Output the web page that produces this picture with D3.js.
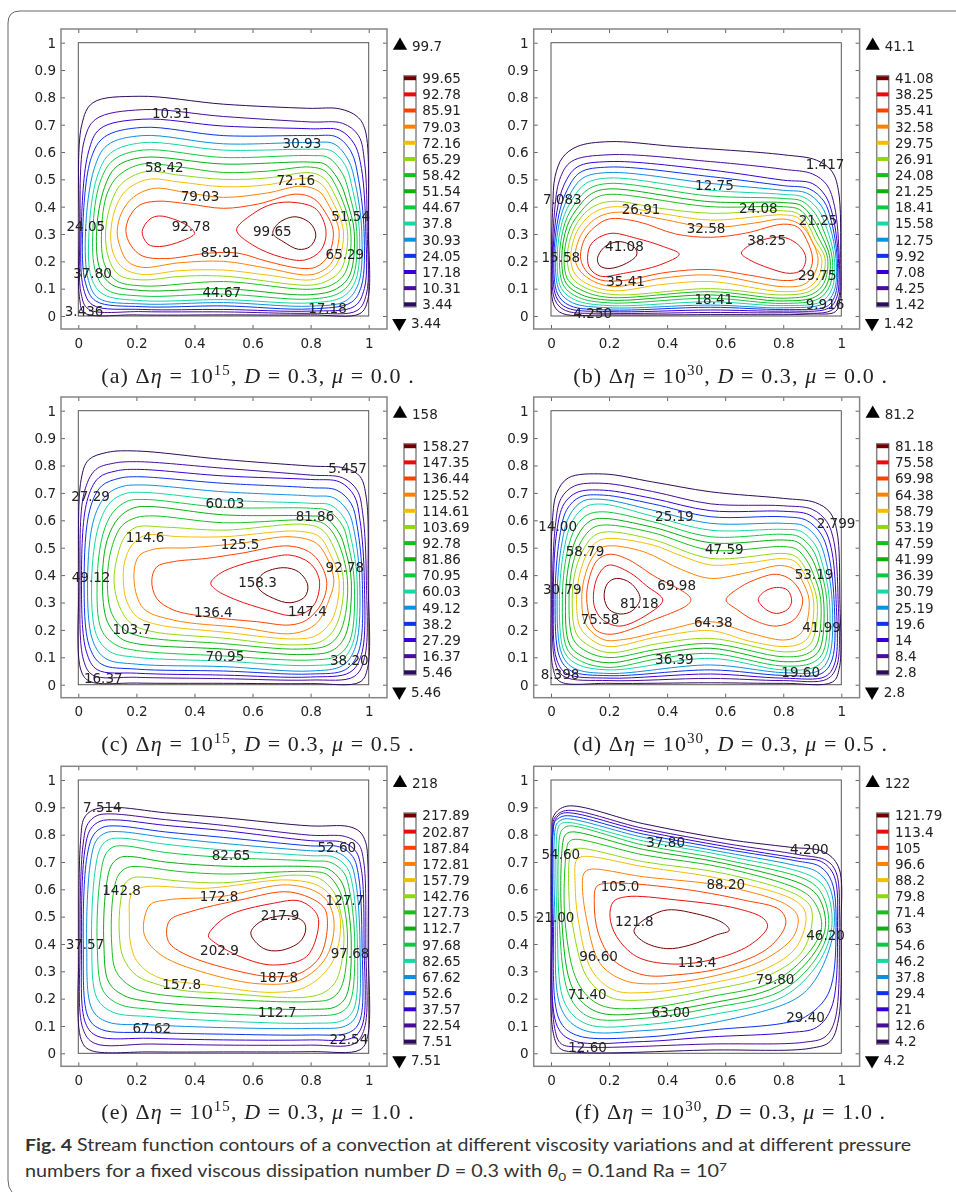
<!DOCTYPE html>
<meta charset="utf-8">
<style>
body { margin: 0; background: #fff; }
text { font-family: "DejaVu Sans", sans-serif; fill: #222; }
.contour { fill: none; stroke-width: 1; }
.tick line { stroke: #666; }
.tick text { font-size: 13.5px; fill: #222; }
.caption { font-family: "Liberation Serif", serif; font-size: 22px; letter-spacing: 1.1px; }
.figcap { font-family: "Lato", sans-serif; font-size: 17.5px; fill: #333; }
</style>
<svg width="956" height="1192"></svg>
<script src="https://d3js.org/d3.v7.min.js"></script>
<script>
// colour of each contour level, lowest to highest
const levelColors = ["#2e0a5c", "#4a0a9c", "#3600d6", "#0a30f0", "#0a90e0", "#12d8a0", "#10c840", "#08b010", "#18c018", "#90d810", "#f0c000", "#ff8000", "#ff4000", "#e81010", "#700000"];
const axisTicksX = [0, 0.2, 0.4, 0.6, 0.8, 1];
const axisTicksY = [0, 0.1, 0.2, 0.3, 0.4, 0.5, 0.6, 0.7, 0.8, 0.9, 1];

// contour levels of each panel, lowest first
const levelsA = ["3.44", "10.31", "17.18", "24.05", "30.93", "37.8", "44.67", "51.54", "58.42", "65.29", "72.16", "79.03", "85.91", "92.78", "99.65"];
const levelsB = ["1.42", "4.25", "7.08", "9.92", "12.75", "15.58", "18.41", "21.25", "24.08", "26.91", "29.75", "32.58", "35.41", "38.25", "41.08"];
const levelsC = ["5.46", "16.37", "27.29", "38.2", "49.12", "60.03", "70.95", "81.86", "92.78", "103.69", "114.61", "125.52", "136.44", "147.35", "158.27"];
const levelsD = ["2.8", "8.4", "14", "19.6", "25.19", "30.79", "36.39", "41.99", "47.59", "53.19", "58.79", "64.38", "69.98", "75.58", "81.18"];
const levelsE = ["7.51", "22.54", "37.57", "52.6", "67.62", "82.65", "97.68", "112.7", "127.73", "142.76", "157.79", "172.81", "187.84", "202.87", "217.89"];
const levelsF = ["4.2", "12.6", "21", "29.4", "37.8", "46.2", "54.6", "63", "71.4", "79.8", "88.2", "96.6", "105", "113.4", "121.79"];

// contours: level index, then x,y pairs in percent of the unit square
const contoursA = [
  [0, .3,31, 1.2,70, 5,78, 21,80.4, 50,77.5, 79,76, 90,75.8, 96,73, 98.8,68, 99.9,31, 99.7,6, 97,.9, 80,.4, 50,.4, 20,.4, 2,1.2, .5,6],
  [1, .6,31, 2,64, 6,72, 22,75.5, 50,73, 80,71, 91,70.5, 96.5,66, 98.6,56, 99.5,31, 99.2,8, 96,2, 80,1, 50,1.5, 22,1.6, 3.5,2.5, 1,8],
  [2, 1,31, 3.5,60, 7.5,68.5, 22,72, 50,69.5, 80,68.5, 90,68, 95,63, 97.5,54, 99,31, 98.5,10, 95,3.5, 80,1.8, 50,2.4, 22,2.4, 5,4, 1.8,10],
  [3, 1.5,31, 4.5,58, 9,65.5, 22,69, 50,66, 80,66, 89,65.5, 94,60, 96.5,50, 98.4,31, 97.5,11, 94,5, 80,2.6, 50,3.7, 22,3.4, 6,5.5, 2.5,12],
  [4, 2.5,31, 5.5,54, 10,62.5, 22,66, 50,63, 80,63.5, 88,63, 93,57, 95.5,48, 97.6,31, 96.5,12, 92,5.5, 80,3.6, 50,4.9, 22,4.4, 7,6.5, 3.5,13],
  [5, 3.7,31, 6.5,51, 11,59.5, 22,63.4, 50,60.7, 80,61, 87,60.5, 92,55, 94.5,46, 96.8,31, 95.5,13, 91,7, 80,4.8, 50,6, 22,5.6, 8.5,8, 4.5,14],
  [6, 5,31, 7.5,49, 12,57, 22,60.7, 50,58, 80,58.7, 86,58, 91,52, 93.5,44, 95.9,31, 94.5,14, 90,8.5, 80,6.2, 50,8, 22,7.3, 10,9.5, 6,16],
  [7, 6.3,31, 9,47, 13,54.5, 22,58, 50,55.6, 80,56.3, 85,55.5, 90,49, 92.5,42, 95,31, 93.5,15, 89,10, 80,7.8, 50,10, 22,9.3, 11.5,11.5, 7.5,17],
  [8, 8,31, 10,45, 14,51.5, 22,55.6, 35,54.5, 50,52.5, 65,53, 80,54.5, 85,53, 89,47, 93.8,31, 92,16, 87.5,11.5, 80,9.8, 50,12.6, 22,11, 13,13, 9,19],
  [9, 9.4,31, 11.5,42, 15,48.5, 23,52.8, 35,51.5, 50,50, 65,50.5, 80,52.4, 84.5,50.5, 88,45, 92.7,31, 90.5,17, 86,13, 80,11.3, 50,14.6, 35,14.5, 22,13.2, 14,15, 10.5,21],
  [10, 11.2,31, 13,40, 16.5,46, 24,50, 35,49, 50,47.3, 65,48, 79,50.4, 84,48, 87,43, 91.3,31, 89,19, 85,15, 80,13.2, 65,15, 50,16.8, 35,16.6, 22,15.2, 15.5,17.5, 12,23],
  [11, 13.4,31, 15,38, 19,43.5, 26,46.7, 38,45, 50,43.4, 65,45, 77,47.5, 83,45.5, 86,41, 89.8,31, 87.5,20, 84,16.5, 79,15, 65,17.5, 50,20, 35,19.5, 22,17.8, 17,20, 14.5,25],
  [12, 16.4,31, 17.5,36, 21,40.5, 27,42, 38,41, 50,39.4, 62,41, 75,44.6, 81,43, 85,38, 87.8,31, 86,22, 82,18, 77,17.4, 65,20, 55,23, 45,23, 30,21, 22,22, 18,26],
  [13, 22,30.9, 24.7,35.5, 28,36.6, 34,35, 38.5,32.4, 40,30.2, 36,27.6, 28,25.4, 24,26.3],
  [13, 54.5,31.5, 60,37.3, 67,41, 75,41.5, 82,39, 85.3,31, 83.5,24, 78,20.5, 70,21.5, 60,26],
  [14, 67,30.2, 69,34, 74.6,36.3, 79.8,34, 81.8,29.6, 79.8,25.4, 75.8,24.4, 70.6,27.2]
];
const contoursB = [
  [0, .2,21, .6,40, 1.4,51, 4,58, 9,62, 20,63.8, 43,62, 80,59, 91.5,57, 96.7,53, 99,46, 99.8,21, 99.5,6, 98,1.6, 89,.7, 55,.5, 20,.4, 4,.9, 1,4],
  [1, .5,21, 1.2,38, 3,50, 7,56.5, 20,59, 55,56.5, 80,53.7, 90,52, 95,48, 97.7,40, 99.3,21, 99,6, 96.5,2, 80,1.2, 55,1.3, 20,1, 5,2, 1.3,6],
  [2, .7,21, 2,38, 4.5,48, 9,54.5, 20,56.5, 55,53.4, 80,49.7, 90,48.5, 94.5,44, 97,37, 99,21, 98.5,7, 95.5,2.8, 80,1.8, 55,2.2, 20,1.6, 5.5,3, 1.8,7],
  [3, 1,21, 2.7,37, 5.5,46, 10,52.5, 20,54.5, 55,51, 80,47.7, 89,46.5, 94,42, 96.5,35, 98.6,21, 98,8, 95,3.5, 80,2.4, 55,3.2, 20,2.2, 6.5,3.8, 2.3,8],
  [4, 1.5,21, 3.3,36, 6.5,44.5, 11,50.5, 20,52.5, 55,48.5, 80,46, 88,45, 93,40.5, 96,33, 98.2,21, 97.5,9, 94,4.5, 80,3, 55,4, 20,3, 7.5,4.8, 3,9],
  [5, 2.1,21, 4,35, 7.5,43, 12,48.5, 20,50.5, 55,46, 80,44.5, 87,43.5, 92,39, 95,32, 97.6,21, 96.8,10, 93,5.2, 80,3.8, 55,5.2, 20,3.8, 8.5,5.8, 3.6,10],
  [6, 2.9,21, 4.8,34, 8.5,41.5, 13,46.5, 20,48.5, 55,43.9, 80,43, 86.5,42, 91,37.5, 94,31, 96.9,21, 96,11, 92,6.2, 80,4.6, 55,6.5, 20,4.8, 9.5,6.8, 4.4,11],
  [7, 3.7,21, 5.6,33, 9.5,40, 14,44.8, 20,46.5, 55,41.8, 80,41.5, 86,40.5, 90,36, 93,30, 96.1,21, 95,11.5, 91,7, 80,5.5, 55,7.7, 20,5.8, 10.5,7.8, 5.2,12],
  [8, 4.5,21, 6.5,32, 10.5,38.5, 15,43, 20,44.5, 55,40, 80,40, 85.5,39, 89,35, 92,29, 95.3,21, 94,12, 90,8, 80,6.5, 55,8.9, 20,6.8, 11.5,9, 6,13],
  [9, 5.6,21, 7.5,31, 11.5,37.5, 16,40.8, 22,42, 37,39.5, 55,37.6, 80,38.5, 85,37.5, 88.5,33.5, 91,28, 94.4,21, 93,13, 89,9, 80,7.7, 55,10, 22,7.8, 12.5,10, 7.2,14],
  [10, 6.8,21, 8.5,30, 12.5,36, 17,39, 23,40, 38,37.5, 55,35.1, 80,37, 85,36, 88,32, 90,27, 93.2,21, 92,14, 88,10, 80,8.9, 55,12.6, 38,11.5, 22,9.2, 14,11, 8.5,15],
  [11, 8.3,21, 10,29, 14,34.5, 18,37, 24,38, 38,35.5, 55,32.4, 70,34, 80,35.5, 85,34, 88,31, 92,21, 90.5,15, 87,11.5, 80,10.7, 55,15, 38,13.8, 22,10.8, 15,12.5, 10,16.5],
  [12, 10.2,21, 11.5,28, 15,32.5, 20,35.5, 30,34.5, 43,30, 55,28.8, 67,30.3, 80,33.6, 85,32.5, 88,28, 90.1,21, 89,16.5, 85,13.5, 80,13, 68,15, 55,17, 40,16, 25,13, 17,13.2, 12.5,16],
  [13, 12.6,21.5, 14,26.6, 20.3,30.2, 29.5,28.4, 38.7,25.4, 44.2,22.6, 37.5,18.7, 25,15.6, 17,14.6, 13.4,17.4],
  [13, 65.6,23, 69.7,26.6, 80,28.8, 85.8,25.4, 87.8,21.1, 86.3,16.8, 82.3,15.6, 75.4,17.4, 68.5,20.5],
  [14, 16,21, 18.6,25.4, 23.8,27.2, 29,24.8, 29.5,22.3, 26,19.3, 20.3,17.4, 16.9,18.3]
];
const contoursC = [
  [0, .2,38, 1,75, 3.5,82, 10,84.8, 20,85.3, 50,82.2, 80,79.8, 92,79, 97,76, 99.2,68, 99.8,38, 99.6,6, 97,1, 80,.4, 50,.5, 20,.6, 4,1.2, 1,5],
  [1, .6,38, 2,70, 6,78.5, 12,80.8, 20,81.4, 50,79, 80,76.5, 91,75.5, 96,71, 98,62, 99.2,38, 98.6,10, 95,3, 80,1.7, 50,2.2, 20,2.7, 5,3.5, 1.8,9],
  [2, 1.1,38, 3,67, 7,75.5, 13,78, 20,78.6, 50,76.2, 80,74.9, 90,74, 95,69, 97,60, 98.5,38, 97.5,11, 93.5,4.5, 80,2.8, 50,3.5, 20,4.2, 6.5,5.5, 2.8,12],
  [3, 2,38, 4,64, 8,72.5, 14,75.3, 20,75.9, 50,73.5, 80,71.9, 89,71, 94,66, 96,58, 97.8,38, 96.5,12, 92,5.5, 80,3.9, 50,5, 20,5.7, 8,7.5, 3.8,14],
  [4, 3.2,38, 5.5,61, 10,69.5, 15,72.3, 22,72.9, 50,70.4, 80,68.9, 88,68.2, 93,63, 95,56, 96.9,38, 95.5,14, 91,7, 80,5, 50,6.6, 20,7.5, 9.5,9.5, 5,16],
  [5, 4.6,38, 7,58, 11,66.5, 16,69.7, 22,70.2, 50,67.4, 80,66.2, 87,65.5, 92,60, 94,53, 96,38, 94.5,15, 90,8.5, 80,7, 50,8.6, 20,10, 11,12, 6.3,18],
  [6, 6.5,38, 8.5,55, 12,63, 17,67, 23,67.6, 50,64.7, 80,64.4, 86,63.5, 91,58, 93,51, 95,38, 93.5,16, 89,10.5, 80,9, 50,10.5, 20,12.5, 13,14.5, 8,20],
  [7, 8.3,38, 10,53, 14,61, 19,64.5, 25,65, 50,62, 80,61.6, 85,61, 90,55, 92,49, 94,38, 92,18, 87.5,12.5, 78,11, 50,13, 20,15, 14.5,17, 10,23],
  [8, 10,38, 11.5,50, 15,58, 20,61, 26,61.6, 50,59.1, 80,60, 85,58.5, 89,53, 92.7,38, 90.5,20, 86,14.5, 76,13, 50,15, 22,17.5, 16,20, 11.5,26],
  [9, 12.3,38, 13.5,47, 16,54, 20,57.5, 30,57.5, 50,56.4, 78,58.5, 84,56.5, 88,50, 91.3,38, 89,22, 84,16, 75,14.5, 50,17, 25,19.5, 18,22.5, 14,29],
  [10, 15.5,38, 16,45, 18.5,51, 23,54.5, 35,54, 50,54, 76,56, 83,54, 87,47, 89.8,38, 87.5,24, 82,18, 75,16.7, 50,19.2, 27,22, 20,25, 16.5,31],
  [11, 19.2,38, 20.7,46.7, 25.8,49.4, 38.5,50, 55.7,51.6, 72.9,54, 82,51.6, 86,45.5, 88,38, 86.7,32, 82,22.4, 74,18.7, 55.7,20.9, 32.7,23.6, 22.4,27.9],
  [12, 25.3,38, 27,43, 32.7,44.9, 44.2,46.1, 55.7,47.9, 72.9,50.6, 81,47.3, 85.5,38, 83.8,29.7, 78.6,23.6, 72.9,21.8, 61.4,23, 44.2,24.8, 32.7,27.3, 27,31.5],
  [13, 45.6,37, 48.8,40.6, 55.7,43.7, 64.9,46.1, 72.9,47.3, 79.8,44.3, 83,38.2, 81.5,29.7, 77.5,26, 72.9,25.2, 64.9,27.3, 54.5,30.9, 47.6,34.5],
  [14, 61.4,37, 63.7,40.6, 70.6,42.7, 75.8,41.2, 79,36.4, 78,32.1, 72.9,29.9, 67.2,31.5, 62.6,34.5]
];
const contoursD = [
  [0, .1,31, .5,60, 2,70, 6,75.5, 18,76.9, 35,74, 55,70.4, 80,68, 91,66.5, 96,63, 98.5,56, 99.5,31, 99.3,6, 97,1, 80,.5, 55,.7, 20,.5, 3,1.2, .7,6],
  [1, .5,31, 1.5,58, 3.5,68, 8,72.5, 18,73.5, 35,70.5, 55,66, 80,65.3, 90,64, 95,59.5, 97.5,52, 98.9,31, 98.5,7, 95,2, 80,1.5, 55,2.3, 20,1.5, 4.5,3, 1.5,8],
  [2, .8,31, 2,56, 4.5,66, 9,70.2, 18,71, 35,68, 55,63.5, 80,63.3, 89,62, 94,57, 96.5,50, 98.2,31, 97.8,8, 94.5,3, 80,2.4, 55,3.9, 20,2.4, 5.5,4, 2,9],
  [3, 1.4,31, 3,54, 5.5,64, 10,68.5, 18,69.2, 35,66, 55,61.3, 80,61.3, 88,60, 93,55, 95.5,48, 97.5,31, 96.8,9, 93,4, 80,3.4, 55,5.4, 20,3.3, 7,5, 3,10],
  [4, 2.1,31, 3.8,52, 6.5,62, 11,67, 18,67.6, 35,63.7, 55,58.9, 80,58.9, 87,58, 92,53, 94.5,46, 96.8,31, 95.8,10, 92,5, 80,4.4, 55,7.2, 20,4.1, 8,6, 3.8,11],
  [5, 2.9,31, 4.6,50, 7.5,60, 12,65, 18,65.9, 35,61.5, 55,56.4, 80,56.7, 86,56, 91,51, 93.5,44, 95.9,31, 94.8,11, 91,6.5, 80,5.4, 55,9.6, 20,5.4, 9,7.5, 4.6,12],
  [6, 3.9,31, 5.5,48, 8.5,57.5, 12.5,62, 18,63.1, 35,59.5, 55,54, 80,54.9, 85.5,54, 90,49.5, 92.5,43, 95,31, 93.8,12, 90,8, 80,6.8, 55,11.4, 37,9.5, 20,6.3, 10.5,8.5, 5.6,13],
  [7, 5,31, 6.5,46, 9.5,55, 13.5,59.8, 18,60.7, 35,57.5, 55,51.8, 80,52.8, 85,52, 89,47.5, 91.5,42, 93.9,31, 92.6,13, 89,9.5, 80,8.4, 55,13.3, 37,11.3, 20,8, 11.5,10, 6.5,14.5],
  [8, 6.2,31, 7.5,44, 10.5,52.5, 14.5,57.3, 19,58.3, 35,55.5, 55,49.1, 80,50.4, 84.5,49.5, 88,45.5, 90.5,40, 92.9,31, 91.5,14.5, 88,11.2, 80,10.2, 55,15, 37,13, 20,9.9, 12.5,12, 7.7,16.5],
  [9, 7.3,31, 8.5,42, 11.5,50, 15,54.5, 19.5,55.8, 35,53, 55,46.1, 80,47.9, 84,47, 87,43.5, 91.6,31, 90,16, 87,13, 80,12, 55,16.9, 37,15, 20,11.7, 13.5,14, 8.8,18.5],
  [10, 8.8,31, 9.8,40, 12.5,48, 16,52.3, 20,53.4, 35,51, 45,47, 55,43.7, 68,44.5, 80,46, 84,45, 87,41, 90.4,31, 89,18, 86,15, 80,13.9, 68,16, 55,19.7, 37,17.5, 20,13.9, 14.5,16, 10,21],
  [11, 10.6,31, 11.5,39, 14,46, 17,49.8, 20.5,50.7, 32,48.5, 45,42, 55,38.8, 68,41, 79,43.5, 84,42, 86.5,38, 88.9,31, 87.5,21, 84.5,17.5, 80,16.3, 68,19, 55,23, 40,20, 25,16.5, 18,16.5, 12,22],
  [12, 12.3,31, 13.5,40, 16,45.5, 20,47.6, 26,46, 35,40, 48.2,30.9, 35,23.5, 20.3,18.4, 15,20.5],
  [12, 60.3,30.9, 65,35.5, 72,39, 77.7,40.3, 83,38, 86.7,31, 84,24, 77.7,21.4, 70,23.5, 64,27.5],
  [13, 14.6,31, 15.5,38, 18,42.5, 20.3,43.7, 27,41, 33,36, 38.5,30.9, 33,25.5, 23.8,21.4, 18,23.5, 15.5,27],
  [13, 71.4,31, 73.5,34, 77.7,35.5, 81.5,34.5, 82.9,30.5, 81.5,27.5, 77.7,26, 74,27.5],
  [14, 18.3,32, 19.5,37, 22.6,38.8, 27.5,37, 30.7,31.5, 28,27, 23.8,25.8, 20,27.5]
];
const contoursE = [
  [0, .2,40, .8,78, 2,86, 5,89, 12,90, 30,88, 50,86.2, 80,83.2, 93,83, 97,81, 99,77, 99.7,70, 99.8,40, 99.6,6, 97,1.3, 80,.6, 50,.5, 25,.5, 4,1.2, 1,5],
  [1, .6,40, 1.6,76, 3.3,84, 6.5,87, 11,87.6, 30,85.5, 50,83.4, 80,79.8, 92,79.3, 96.5,76.5, 98.3,70, 99,40, 98.5,9, 95,3.5, 80,3, 50,3, 25,3.4, 5.5,3.7, 1.6,9],
  [2, 1.1,40, 2.2,74, 4.2,82, 7.5,84.9, 13,85.4, 30,83.4, 50,81.5, 80,77.8, 91,77.2, 95.5,74, 97.5,67, 98.4,40, 97.7,10, 94,5.5, 80,4.9, 50,4.9, 25,5.5, 6.5,6.3, 2.5,11],
  [3, 1.7,40, 3,72, 5.3,80, 8.5,82.7, 13,83.2, 30,81, 50,79, 80,75.9, 90,75.5, 94.5,72, 96.5,65, 97.7,40, 96.8,11.5, 93,7.5, 80,6.7, 50,7, 25,7.6, 8,8.7, 3.5,13],
  [4, 2.9,40, 4.2,70, 6.3,78, 9.5,80.7, 14,81.1, 30,79, 50,76.8, 80,74.1, 89,73.6, 93.5,70, 95.5,63, 97,40, 95.8,14, 92,10, 80,9.1, 50,9.4, 25,10.4, 10,11.5, 4.8,16],
  [5, 4.6,40, 5.8,67, 7.8,75.5, 10.5,78.2, 15,78.7, 30,76.5, 50,74.4, 80,72.3, 88,71.8, 92.5,68, 94.5,61, 96.1,40, 94.8,16, 91,12, 80,11, 50,11.8, 25,13.4, 12,15, 6.5,20],
  [6, 6.5,40, 7.5,64, 9.5,73, 12,75.5, 16,75.9, 30,73.5, 50,71.7, 80,70.4, 87,69.8, 91.5,66, 93.5,59, 95.2,40, 93.5,18.5, 90,14.8, 80,13.7, 50,14.4, 25,16.1, 14,18, 8.5,23],
  [7, 8.8,40, 9.5,60, 11.5,69, 14.5,71.7, 18,72, 30,70, 50,68.5, 80,68.3, 86,67.5, 90.5,63, 92.5,56, 94,40, 92.3,21, 88.5,17, 80,16.1, 50,17, 25,18.9, 16,21, 10.5,26],
  [8, 11.5,40, 12,58, 14,65.5, 17,68, 21,68.3, 35,66.5, 50,65.6, 80,66.5, 85.5,65.5, 89.5,60.5, 91.5,54, 92.7,40, 90.5,24, 87,20, 80,18.9, 50,19.8, 25,22, 18,24.5, 13,30],
  [9, 14.1,44, 14.6,56, 16,62, 19,64.3, 23,64.4, 35,63, 50,62.4, 75,65.2, 83,64, 88,59, 90,53, 91.5,42, 89,27, 85,22.5, 78,20.5, 50,22, 36,23, 28,25, 20,28.5, 15.5,35],
  [10, 17.6,47, 18.4,58.5, 22.4,60.8, 44.2,60.4, 72.9,63.4, 84,60.5, 89.9,51.2, 87.8,34, 78.6,24.4, 67.2,22.3, 44.2,25, 27,28, 20,34, 17.8,41.5],
  [11, 22.4,46.3, 24.7,54.3, 30.4,56.1, 48.8,57.3, 72.9,61.6, 84.4,57.3, 88,48.8, 85.5,35.4, 76.3,26.8, 62.6,25.4, 44.2,29.3, 29.3,35.4, 23.5,41.5],
  [12, 30.4,43.9, 31.6,48.8, 38.5,51.8, 55.7,56.1, 73,59, 84.3,53.7, 85.8,47.6, 83.2,35.4, 76.3,29.3, 67.2,28, 55.7,29.9, 38.5,35.4, 31.6,40],
  [13, 44.8,43, 51,50, 67.2,54.9, 76.3,55.7, 82,51.2, 82.7,46.3, 78.6,35.4, 67.2,32.3, 55.7,35.4, 46.5,40.9],
  [14, 59.4,43.9, 62.5,48, 71.8,50.4, 77.5,48.2, 78.3,45.1, 76.3,40.8, 69.5,37.6, 63.7,38.4]
];
const contoursF = [
  [0, .1,48.8, .3,80, 1,87, 5.4,90.4, 31.8,84, 60.5,78.3, 82.3,75.4, 93.8,73.8, 99,68.3, 99.9,46, 99,12.2, 96.1,4.3, 89.2,1.8, 54.8,1.2, 8.8,.4, 3.1,1.8, .8,7.3],
  [1, .2,48.8, .5,80, 1.2,86, 5,88.8, 31.8,82.3, 60.5,76.7, 85.8,72.6, 95,70.5, 98.3,66, 99.3,46, 97.8,12.2, 94.4,6, 86.9,4, 54.8,3.4, 10,2.3, 3.5,3.5, 1.3,9],
  [2, .5,48.8, .8,82, 1.5,85.5, 4.2,87.9, 31.8,81.3, 60.5,75.6, 85,71.4, 93.2,70.1, 97.5,65, 98.7,46, 96.7,17, 91.5,9.5, 81.2,7.5, 54.8,6, 31.8,4.3, 7.7,4.6, 2.2,9.8],
  [3, .8,48.8, 1,84, 1.8,85.3, 4.8,86.9, 31.8,80.2, 60.5,74.6, 84,70.5, 92.7,68.3, 96.7,62.8, 98.2,46, 95.6,22, 87.7,13.4, 80,11, 54.8,8.5, 31.8,5.9, 8.8,6.6, 2.9,12.2],
  [4, 1.4,48.8, 1.6,83, 2.5,84.6, 4.8,85.8, 31.8,79, 60.5,73.4, 83,69, 91.5,66.5, 95.9,61, 97.5,46, 93.2,31, 88,23, 81.2,18.3, 54.8,11, 31.8,8.3, 11.1,8.5, 3.7,15.9],
  [5, 2.1,48.8, 2.3,82, 3.2,83.8, 5.4,84.5, 31.8,77.7, 60.5,72.2, 90.4,64.4, 95,59.1, 96.7,46, 92,32.9, 80,20.7, 54.8,14, 31.8,10.4, 12.3,10.7, 4.8,18.3],
  [6, 2.8,48.8, 3.1,80, 4,82, 6,83.2, 31.8,76.2, 60.5,70.7, 89.2,62.8, 93.8,57.3, 95.6,46, 90.9,34.1, 78.9,22.6, 54.8,16.5, 31.8,12.8, 13.4,13.2, 6.5,20.7],
  [7, 3.7,48.8, 4.2,78, 5,80, 7.1,81, 31.8,74.6, 60.5,69.3, 88.1,61, 92.7,56.1, 94.5,46, 89.8,35.4, 77.7,24.4, 54.8,18.3, 31.8,14.6, 15.7,15.2, 7.7,23.2],
  [8, 4.8,48.8, 5.6,76, 6.3,77.5, 8.3,78.3, 31.8,72.6, 60.5,67.7, 86.9,59.1, 91.3,54.3, 93.2,46, 88.6,36.6, 76.6,26.2, 54.8,20.7, 31.8,16.5, 16.9,17.7, 9.4,25.6],
  [9, 6.3,55, 7.1,74.1, 9.4,75, 31.8,70.1, 60.5,65.6, 85.8,57.3, 89.8,52.4, 86.9,37.8, 75.4,28.7, 54.8,23.2, 31.8,19.5, 20.3,20.5, 12.3,28, 7.1,48.8],
  [10, 8.3,62, 8.8,70.7, 11.1,72, 31.8,68.3, 60.5,63.4, 84.6,55.5, 87.8,50.6, 84.6,39, 74.3,31.1, 54.8,25.6, 31.8,22.2, 21.5,23.2, 14,30.5, 9.4,48.8],
  [11, 10.8,62, 11.4,65.9, 13.4,67.3, 31.8,64.6, 60.5,61, 81.2,54.3, 85,50, 83.5,42.7, 73.1,34.1, 54.8,28, 35.2,25.4, 24.9,26.8, 16.9,32.9, 12.3,48.8],
  [12, 14.9,55, 15.7,61, 19.2,62.2, 43.3,60.4, 66.2,56.1, 78.9,52.4, 80.9,47.6, 75.4,39, 60.5,31.7, 43.3,28.7, 31.8,28.7, 21.5,34.1, 16.3,43.9],
  [13, 20.3,50, 21.5,55.5, 26,57.3, 43.3,56.1, 64,53, 73.1,49.4, 74.6,46.3, 68.5,39.6, 54.8,34.1, 41,32.7, 29.5,35.4, 22.6,42.7],
  [14, 28.6,45, 38.7,52.2, 50.2,51, 59.4,47.6, 61.4,45, 57,43.3, 47.9,39.6, 39.8,38.3, 31.8,40.9]
];

// inline contour labels: text, x, y in percent
const labelsA = [["10.31",32,74.4],["30.93",77,63.4],["58.42",29.6,54.6],["72.16",74.9,49.8],["79.03",41.9,43.9],["51.54",93.8,36.7],["24.05",2.6,33],["92.78",38.8,32.7],["99.65",66.8,30.9],["65.29",91.8,22.6],["85.91",48.8,23.2],["37.80",4.9,15.6],["44.67",49.4,8.7],["17.18",85.8,2.7],["3.436",2,1.6]];
const labelsB = [["1.417",94.4,55.6],["12.75",56.3,47.7],["7.083",3.9,42.8],["26.91",31,39],["24.08",71.4,39.4],["21.25",92,35.1],["32.58",53.4,32.3],["38.25",74.3,27.8],["41.08",25.3,25.7],["15.58",3.4,21.5],["29.75",91.7,15],["35.41",25.7,12.8],["18.41",56.1,6.1],["9.916",94.4,4.3],["4.250",14.4,1]];
const labelsC = [["5.457",92.7,79],["27.29",4.2,68.9],["60.03",50.5,66.4],["81.86",81.5,61.7],["114.6",23,53.8],["125.5",55.7,51.2],["92.78",91.8,42.9],["49.12",4.4,39.2],["158.3",61.7,37.3],["136.4",46.5,26.6],["147.4",78.9,27],["103.7",18.4,20.2],["70.95",50.5,10.6],["38.20",93.3,9],["16.37",8.6,2.3]];
const labelsD = [["25.19",42.5,61.6],["2.799",98.2,59.1],["14.00",2.3,58],["58.79",11.7,48.9],["47.59",59.7,49.4],["53.19",90.6,40.5],["30.79",3.9,34.9],["69.98",43.3,36.3],["81.18",30.4,29.9],["75.58",16.9,23.8],["64.38",55.9,22.9],["41.99",93.2,20.9],["36.39",42.5,9.4],["19.60",86,4.5],["8.398",3.1,4]];
const labelsE = [["7.514",8.3,90.2],["52.60",89,75.4],["82.65",52.6,72.6],["142.8",14.9,59.8],["172.8",48.5,57.6],["127.7",91.8,55.9],["217.9",69.5,50.6],["37.57",2.3,40.1],["202.9",48.6,37.6],["97.68",93.6,36.8],["187.8",69,28],["157.8",35.6,25.2],["112.7",68.5,14.9],["67.62",25.3,9.1],["22.54",93.2,5.2]];
const labelsF = [["37.80",39.5,77.1],["4.200",89,74.6],["54.60",3.4,73],["105.0",23.8,61.3],["88.20",60.2,62],["121.8",28.7,48.3],["21.00",1.4,49.9],["46.20",94.6,43.4],["96.60",16.4,35.7],["113.4",50.3,33.4],["79.80",77.2,27],["71.40",12.5,21.5],["63.00",41.3,15.1],["29.40",87.7,13.4],["12.60",12.6,2.1]];

const maxLabels = ["99.7", "41.1", "158", "81.2", "218", "122"];
const minLabels = ["3.44", "1.42", "5.46", "2.8", "7.51", "4.2"];
const exponents = ["15", "30", "15", "30", "15", "30"];
const mus = ["0.0", "0.0", "0.5", "0.5", "1.0", "1.0"];
const letters = ["a", "b", "c", "d", "e", "f"];

const allLevels = [levelsA, levelsB, levelsC, levelsD, levelsE, levelsF];
const allContours = [contoursA, contoursB, contoursC, contoursD, contoursE, contoursF];
const allLabels = [labelsA, labelsB, labelsC, labelsD, labelsE, labelsF];

// where the unit square of each panel sits on the page
const colX = [[78.3, 368.7], [551, 841.3]];
const rowY = [[316, 42.7], [684.7, 410.7], [1053.3, 780]];
const captionY = [382.7, 750.7, 1119];

const svg = d3.select("svg");

// the scan is a little soft
svg.append("defs").append("filter").attr("id", "soft")
    .attr("x", "-2%").attr("y", "-2%").attr("width", "104%").attr("height", "104%")
    .append("feGaussianBlur").attr("stdDeviation", 0.35);

// frame of the figure box, open at the bottom
svg.append("path")
    .attr("d", "M956,11 L20,11 Q8,11 8,23 L8,1180 Q8,1188 12,1192")
    .attr("fill", "none")
    .attr("stroke", "#666");

letters.forEach(function(letter, i) {
    const col = i % 2, row = Math.floor(i / 2);
    const x = d3.scaleLinear([0, 1], colX[col]);
    const y = d3.scaleLinear([0, 1], rowY[row]);
    const px = d => x(d / 100), py = d => y(d / 100);
    const g = svg.append("g").attr("filter", "url(#soft)");

    const left = x(0) - 17.3, right = x(1) + 18.3;
    const top = y(1) - 13.7, bottom = y(0) + 13;

    // outer axes box with inward ticks
    g.append("g").attr("transform", `translate(0,${bottom})`)
        .call(d3.axisBottom(x).tickValues(axisTicksX).tickFormat(d3.format("~g")).tickSizeInner(-4).tickSizeOuter(0).tickPadding(9))
        .call(a => a.select(".domain").remove());
    g.append("g").attr("transform", `translate(0,${top})`)
        .call(d3.axisTop(x).tickValues(axisTicksX).tickFormat("").tickSizeInner(-4).tickSizeOuter(0))
        .call(a => a.select(".domain").remove());
    g.append("g").attr("transform", `translate(${left},0)`)
        .call(d3.axisLeft(y).tickValues(axisTicksY).tickFormat(d3.format("~g")).tickSizeInner(-4).tickSizeOuter(0).tickPadding(5))
        .call(a => a.select(".domain").remove());
    g.append("g").attr("transform", `translate(${right},0)`)
        .call(d3.axisRight(y).tickValues(axisTicksY).tickFormat("").tickSizeInner(-4).tickSizeOuter(0))
        .call(a => a.select(".domain").remove());
    g.append("rect")
        .attr("x", left).attr("y", top)
        .attr("width", right - left).attr("height", bottom - top)
        .attr("fill", "none").attr("stroke", "#858585").attr("stroke-width", 1.5);

    // the unit square
    g.append("rect")
        .attr("x", x(0)).attr("y", y(1))
        .attr("width", x(1) - x(0)).attr("height", y(0) - y(1))
        .attr("fill", "none").attr("stroke", "#555").attr("stroke-width", 1);

    const line = d3.line()
        .x(d => px(d[0]))
        .y(d => py(d[1]))
        .curve(d3.curveCatmullRomClosed.alpha(0.5));

    g.selectAll("path.contour")
        .data(allContours[i])
        .enter()
        .append("path")
        .attr("class", "contour")
        .attr("stroke", d => levelColors[d[0]])
        .attr("d", d => line(d3.pairs(d.slice(1)).filter((p, k) => k % 2 == 0)));

    g.selectAll("text.clabel")
        .data(allLabels[i])
        .enter()
        .append("text")
        .attr("class", "clabel")
        .attr("x", d => px(d[1]))
        .attr("y", d => py(d[2]))
        .attr("dy", "0.36em")
        .attr("text-anchor", "middle")
        .attr("font-size", 13.5)
        .text(d => d[0]);

    // colour bar, levels run top to bottom from the highest
    const barX = x(0) + 325.7, barW = 12;
    const barY = d3.scalePoint(allLevels[i].slice().reverse(), [y(1) + 35.5, y(1) + 261.6]);
    g.append("rect")
        .attr("x", barX).attr("y", barY.range()[0] - 2.5)
        .attr("width", barW).attr("height", barY.range()[1] - barY.range()[0] + 5)
        .attr("fill", "none").attr("stroke", "#858585").attr("stroke-width", 1.5);
    g.selectAll("rect.level")
        .data(allLevels[i])
        .enter()
        .append("rect")
        .attr("class", "level")
        .attr("x", barX).attr("width", barW)
        .attr("y", d => barY(d) - 2).attr("height", 4)
        .attr("fill", (d, k) => levelColors[k]);
    g.selectAll("text.llabel")
        .data(allLevels[i])
        .enter()
        .append("text")
        .attr("class", "llabel")
        .attr("x", barX + 18.3)
        .attr("y", d => barY(d))
        .attr("dy", "0.36em")
        .attr("font-size", 13.5)
        .text(d => d);

    // max and min markers
    const tri = d3.symbol(d3.symbolTriangle, 88);
    g.append("path").attr("d", tri()).attr("fill", "#000")
        .attr("transform", `translate(${x(0) + 321.7},${y(1) + 3}) `);
    g.append("text").attr("x", x(0) + 333.7).attr("y", y(1) + 3.4).attr("dy", "0.36em")
        .attr("font-size", 13.5).text(maxLabels[i]);
    g.append("path").attr("d", tri()).attr("fill", "#000")
        .attr("transform", `translate(${x(0) + 321},${y(0) + 7}) rotate(180)`);
    g.append("text").attr("x", x(0) + 332.7).attr("y", y(0) + 7.2).attr("dy", "0.36em")
        .attr("font-size", 13.5).text(minLabels[i]);

    // panel caption
    const cap = g.append("text")
        .attr("class", "caption")
        .attr("x", (x(0) + x(1)) / 2 + 34.5)
        .attr("y", captionY[row])
        .attr("text-anchor", "middle");
    cap.append("tspan").text(`(${letter}) Δ`);
    cap.append("tspan").attr("font-style", "italic").text("η");
    cap.append("tspan").text(" = 10");
    cap.append("tspan").attr("dy", -8).attr("font-size", 15).text(exponents[i]);
    cap.append("tspan").attr("dy", 8).text(", ");
    cap.append("tspan").attr("font-style", "italic").text("D");
    cap.append("tspan").text(" = 0.3, ");
    cap.append("tspan").attr("font-style", "italic").text("μ");
    cap.append("tspan").text(` = ${mus[i]} .`);
});

// figure caption
const fig1 = svg.append("text").attr("class", "figcap").attr("x", 25).attr("y", 1151)
    .attr("textLength", 886).attr("lengthAdjust", "spacingAndGlyphs");
fig1.append("tspan").attr("font-weight", "bold").text("Fig. 4");
fig1.append("tspan").text("  Stream function contours of a convection at different viscosity variations and at different pressure");

const fig2 = svg.append("text").attr("class", "figcap").attr("x", 25).attr("y", 1177)
    .attr("textLength", 702).attr("lengthAdjust", "spacingAndGlyphs");
fig2.append("tspan").text("numbers for a fixed viscous dissipation number ");
fig2.append("tspan").attr("font-style", "italic").text("D");
fig2.append("tspan").text(" = 0.3 with ");
fig2.append("tspan").attr("font-style", "italic").text("θ");
fig2.append("tspan").attr("dy", 4).attr("font-size", 12).text("0");
fig2.append("tspan").attr("dy", -4).text(" = 0.1and Ra = 10");
fig2.append("tspan").attr("dy", -6).attr("font-size", 12).text("7");
</script>
